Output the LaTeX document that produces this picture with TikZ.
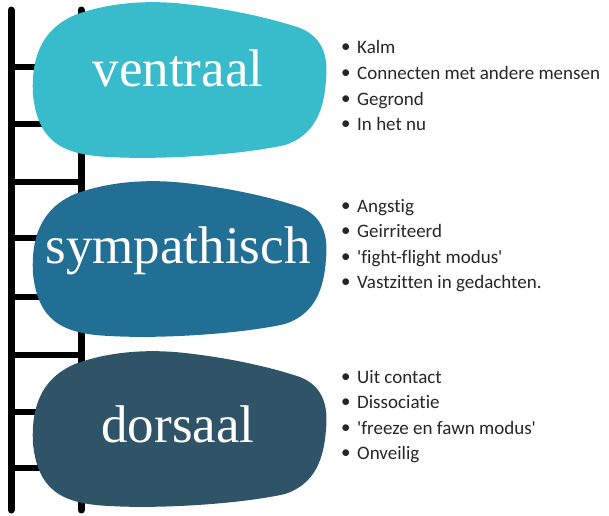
\documentclass[tikz,border=0pt]{standalone}
\usepackage{fontspec}
\setmainfont{Liberation Serif}
\newfontfamily\listfont[RawFeature={-liga;-dlig;-clig}]{Carlito}
\definecolor{cventral}{HTML}{38BBCB}
\definecolor{csymp}{HTML}{226F96}
\definecolor{cdors}{HTML}{2F5468}
\definecolor{ctext}{HTML}{262626}
\tikzset{
  rail/.style={line width=7pt, line cap=round, black},
  rung/.style={line width=5.5pt, black},
  blobtext/.style={text=white, font=\fontsize{53}{53}\selectfont, inner sep=0pt},
  listitem/.style={anchor=base west, inner sep=0pt, text=ctext, font=\listfont\fontsize{19}{19}\selectfont},
}
\newcommand{\blobshape}[2]{%
  \fill[#1, shift={(0,#2)}] (33,95) .. controls (31,60) and (40,30) .. (75,15)
    .. controls (110,2) and (150,0) .. (185,4)
    .. controls (230,9) and (270,18) .. (300,28)
    .. controls (325,38) and (328,60) .. (326,80)
    .. controls (324,110) and (315,135) .. (285,145)
    .. controls (240,155) and (160,160) .. (110,157)
    .. controls (60,155) and (38,140) .. (33,95) -- cycle;}
\newcommand{\bul}[1]{\makebox[16pt][l]{\raisebox{0.5pt}{\textbullet}}#1}
\begin{document}
\begin{tikzpicture}[x=1pt,y=-1pt]
\useasboundingbox (0,0) rectangle (609,515);
% ladder
\coordinate (lt) at (11,10);
\coordinate (lb) at (11,510);
\coordinate (rt) at (81,10);
\coordinate (rb) at (81,510);
\foreach \y in {67,124,182,238,297,355,412,468}{
  \draw[rung] (11,\y) -- (81,\y);
}
\draw[rail] (lt) -- (lb);
\draw[rail] (rt) -- (rb);
% blobs
\blobshape{cventral}{0}
\blobshape{csymp}{179}
\blobshape{cdors}{349}
\node[blobtext, anchor=base] (v) at (178,86) {ventraal};
\node[blobtext, anchor=base] (s) at (178,263) {sympathisch};
\node[blobtext, anchor=base] (d) at (178,442) {dorsaal};
% lists
\node[listitem] (v1) at (341,53) {\bul{Kalm}};
\node[listitem] (v2) at (341,79) {\bul{Connecten met andere mensen}};
\node[listitem] (v3) at (341,105) {\bul{Gegrond}};
\node[listitem] (v4) at (341,130) {\bul{In het nu}};
\node[listitem] (s1) at (341,212) {\bul{Angstig}};
\node[listitem] (s2) at (341,237) {\bul{Geirriteerd}};
\node[listitem] (s3) at (341,263) {\bul{'fight-flight modus'}};
\node[listitem] (s4) at (341,288) {\bul{Vastzitten in gedachten.}};
\node[listitem] (d1) at (341,383) {\bul{Uit contact}};
\node[listitem] (d2) at (341,408) {\bul{Dissociatie}};
\node[listitem] (d3) at (341,434) {\bul{'freeze en fawn modus'}};
\node[listitem] (d4) at (341,459) {\bul{Onveilig}};
\end{tikzpicture}
\end{document}
